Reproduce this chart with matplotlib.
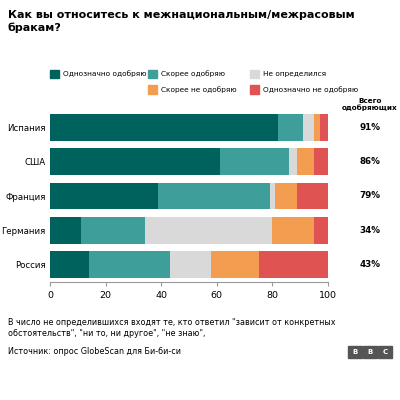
import numpy as np
import matplotlib.pyplot as plt
from matplotlib.patches import Rectangle

countries = ['Испания', 'США', 'Франция', 'Германия', 'Россия']
series = ['Однозначно одобряю', 'Скорее одобряю', 'Не определился',
          'Скорее не одобряю', 'Однозначно не одобряю']
values = [
    [82, 61, 39, 11, 14],
    [9, 25, 40, 23, 29],
    [4, 3, 2, 46, 15],
    [2, 6, 8, 15, 17],
    [3, 5, 11, 5, 25],
]
totals = ['91%', '86%', '79%', '34%', '43%']
colors = ['#00625d', '#3e9e9a', '#d9d9d9', '#f29d4f', '#e05353']

fig = plt.figure(figsize=(4, 4), dpi=100)
ax = fig.add_axes([0.125, 0.295, 0.695, 0.43])

y = np.arange(len(countries))
left = np.zeros(len(countries))
for vals, c in zip(values, colors):
    ax.barh(y, vals, left=left, height=0.78, color=c)
    left += np.array(vals)

ax.set_ylim(4.5, -0.5)
ax.set_xlim(0, 100)
ax.set_yticks(y)
ax.set_yticklabels(countries, fontsize=6.2)
ax.set_xticks([0, 20, 40, 60, 80, 100])
ax.tick_params(axis='x', labelsize=6.8, length=3, color='#999999')
ax.tick_params(axis='y', length=0, pad=3)
for s in ['top', 'right', 'left']:
    ax.spines[s].set_visible(False)
ax.spines['bottom'].set_color('#999999')

for yi, t in zip(y, totals):
    ax.text(1.15, yi, t, transform=ax.get_yaxis_transform(), ha='center',
            va='center', fontsize=6.3, fontweight='bold')
ax.text(1.15, -0.47, 'Всего\nодобряющих', transform=ax.get_yaxis_transform(),
        ha='center', va='bottom', fontsize=5.2, fontweight='bold', linespacing=1.1)

fig.text(0.02, 0.975, 'Как вы относитесь к межнациональным/межрасовым\nбракам?',
         ha='left', va='top', fontsize=8, fontweight='bold', linespacing=1.35)

# legend rows
row1 = [(0.125, 0), (0.37, 1), (0.625, 2)]
row2 = [(0.37, 3), (0.625, 4)]
for yy, row in [(0.815, row1), (0.777, row2)]:
    for x, i in row:
        fig.patches.append(Rectangle((x, yy - 0.011), 0.022, 0.022, color=colors[i],
                                     transform=fig.transFigure))
        fig.text(x + 0.033, yy, series[i], fontsize=5.3, va='center')

fig.text(0.02, 0.205, 'В число не определившихся входят те, кто ответил "зависит от конкретных\n'
         'обстоятельств", "ни то, ни другое", "не знаю",',
         fontsize=5.8, va='top', linespacing=1.3)
fig.text(0.02, 0.12, 'Источник: опрос GlobeScan для Би-би-си', fontsize=5.8, va='center')
for k, ch in enumerate('BBC'):
    x = 0.87 + k * 0.038
    fig.patches.append(Rectangle((x, 0.105), 0.034, 0.03, color='#555555',
                                 transform=fig.transFigure))
    fig.text(x + 0.017, 0.12, ch, color='white', fontsize=5, fontweight='bold',
             ha='center', va='center')

fig.savefig('out.png', dpi=100)
